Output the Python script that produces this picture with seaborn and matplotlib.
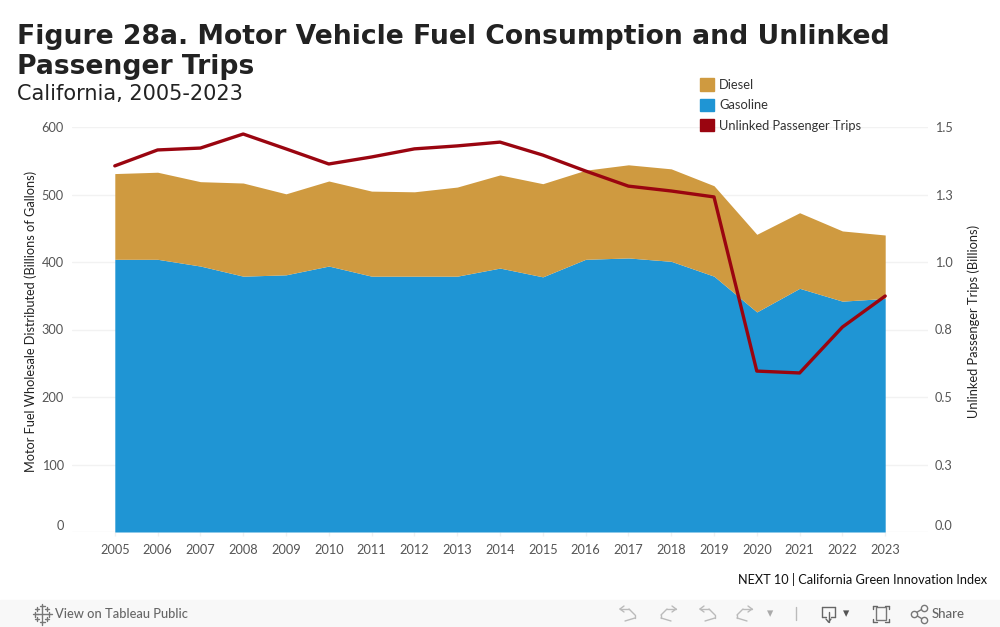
import matplotlib
matplotlib.use('Agg')
import matplotlib.pyplot as plt
import seaborn as sns
import pandas as pd
from matplotlib.lines import Line2D
from matplotlib.patches import Patch, Rectangle

years = list(range(2005, 2024))
gasoline = [404, 404, 394, 379, 381, 394, 379, 379, 379, 391, 378, 404, 406, 401, 379, 326, 361, 342, 346]
diesel = [127, 129, 125, 138, 120, 126, 126, 125, 132, 138, 138, 132, 138, 137, 134, 115, 112, 104, 94]
trips = [1.356, 1.415, 1.422, 1.474, 1.419, 1.363, 1.389, 1.419, 1.43, 1.444, 1.396, 1.337, 1.281, 1.263, 1.241, 0.596, 0.589, 0.759, 0.874]

left_ticks = [0, 100, 200, 300, 400, 500, 600]
right_ticks = [0, 0.25, 0.5, 0.75, 1.0, 1.25, 1.5]
right_labels = ['0.0', '0.3', '0.5', '0.8', '1.0', '1.3', '1.5']

blue = '#1f95d4'
gold = '#cf9a40'
red = '#9a0510'
ui_font = ['Lato', 'DejaVu Sans']

df = pd.DataFrame({'year': years, 'trips': trips})

sns.set_theme(style='white')
plt.rcParams['font.family'] = ui_font

fig = plt.figure(figsize=(10, 6.27), dpi=100)
ax = fig.add_axes([0.072, 1 - 532 / 627, 0.856, 405 / 627])

ax.stackplot(years, gasoline, diesel, colors=[blue, gold], linewidth=0, zorder=2)
ax.set_xlim(2004, 2024)
ax.set_ylim(0, 600)
ax.set_yticks(left_ticks)
ax.set_xticks(years)
ax.grid(axis='y', color='#f2f2f2', linewidth=1, zorder=0)
ax.set_axisbelow(True)
ax.tick_params(axis='y', length=0, labelsize=9.2, labelcolor='#555555', pad=6)
ax.tick_params(axis='x', length=3, color='#f0f0f0', width=1, bottom=True, labelsize=9.2, labelcolor='#555555', pad=5.5)
ax.get_yticklabels()[0].set_verticalalignment('bottom')
ax.set_ylabel('Motor Fuel Wholesale Distributed (Billions of Gallons)', fontsize=9.2, color='#222222')
ax.yaxis.set_label_coords(-0.0412, 0.519)
sns.despine(ax=ax, left=True, right=True, top=True, bottom=True)

ax2 = ax.twinx()
sns.lineplot(data=df, x='year', y='trips', ax=ax2, color=red, linewidth=2.4, zorder=5)
ax2.set_ylim(0, 1.5)
ax2.set_yticks(right_ticks)
ax2.set_yticklabels(right_labels)
ax2.grid(False)
ax2.tick_params(axis='y', length=0, labelsize=9.2, labelcolor='#555555', pad=5)
ax2.get_yticklabels()[0].set_verticalalignment('bottom')
ax2.set_xlabel('')
ax2.set_ylabel('Unlinked Passenger Trips (Billions)', fontsize=9.3, color='#222222')
ax2.yaxis.set_label_coords(1.0458, 0.519)
sns.despine(ax=ax2, left=True, right=True, top=True, bottom=True)

# title block
fig.text(0.017, 1 - 36.5 / 627, 'Figure 28a. Motor Vehicle Fuel Consumption and Unlinked', fontsize=19.2,
         fontweight='bold', color='#222222', va='center', family='DejaVu Sans')
fig.text(0.017, 1 - 66.5 / 627, 'Passenger Trips', fontsize=19.2, fontweight='bold', color='#222222',
         va='center', family='DejaVu Sans')
fig.text(0.017, 1 - 94 / 627, 'California, 2005-2023', fontsize=15, color='#222222', va='center',
         family='DejaVu Sans')

handles = [Patch(color=gold), Patch(color=blue), Patch(color=red)]
fig.legend(handles, ['Diesel', 'Gasoline', 'Unlinked Passenger Trips'], loc='upper left',
           bbox_to_anchor=(0.700, 1 - 78.5 / 627), frameon=False, fontsize=9.3, labelcolor='#333333',
           handlelength=1.08, handleheight=1.08, handletextpad=0.39, labelspacing=0.6, borderpad=0,
           borderaxespad=0)

fig.text(0.987, 1 - 580 / 627, 'NEXT 10 | California Green Innovation Index', fontsize=9.2, color='#111111',
         ha='right', va='center')


# footer icons are drawn in pixel coordinates
def px(x, y):
    return x / 1000, 1 - y / 627


def seg(x0, y0, x1, y1, color='#888888', lw=1):
    a, b = px(x0, y0), px(x1, y1)
    fig.add_artist(Line2D([a[0], b[0]], [a[1], b[1]], color=color, linewidth=lw, transform=fig.transFigure))


fig.add_artist(Rectangle((0, 0), 1, 27 / 627, transform=fig.transFigure, color='#f8f8f8', zorder=-1))
fig.text(0.055, 1 - 614 / 627, 'View on Tableau Public', fontsize=9.3, fontweight='medium', color='#666666', va='center')
fig.text(0.932, 1 - 614 / 627, 'Share', fontsize=9.5, fontweight='medium', color='#666666', va='center')

# tableau mark
for cx, cy, r in [(42, 614, 5), (42, 606, 2.5), (42, 622, 2.5), (35, 614, 2.5), (49, 614, 2.5),
                  (37, 609, 2), (47, 609, 2), (37, 619, 2), (47, 619, 2)]:
    seg(cx - r, cy, cx + r, cy, '#777777', 1)
    seg(cx, cy - r, cx, cy + r, '#777777', 1)

# undo / redo arrows
for cx, flip in [(628, False), (668, True), (708, False), (744, True)]:
    d = -1 if flip else 1
    seg(cx - 8 * d, 609, cx + 1 * d, 609, '#bbbbbb')
    seg(cx - 8 * d, 609, cx - 4 * d, 606, '#bbbbbb')
    seg(cx - 8 * d, 609, cx - 4 * d, 612, '#bbbbbb')
    seg(cx + 7 * d, 615, cx + 7 * d, 618, '#bbbbbb')
    seg(cx + 1 * d, 609, cx + 7 * d, 615, '#bbbbbb')
    seg(cx + 7 * d, 618, cx - 3 * d, 621, '#bbbbbb')
fig.text(0.770, 1 - 614 / 627, '▾', fontsize=9, color='#aaaaaa', va='center', ha='center', family='DejaVu Sans')
seg(796, 607, 796, 620, '#bbbbbb')

# download
seg(822, 607, 835, 607, '#666666')
seg(822, 607, 822, 617, '#666666')
seg(835, 607, 835, 617, '#666666')
seg(822, 617, 826, 617, '#666666')
seg(831, 617, 835, 617, '#666666')
seg(828.5, 612, 828.5, 622, '#666666')
seg(826, 619, 828.5, 622, '#666666')
seg(831, 619, 828.5, 622, '#666666')
fig.text(0.846, 1 - 614 / 627, '▾', fontsize=9, color='#555555', va='center', ha='center', family='DejaVu Sans')

# full screen
fig.add_artist(Rectangle(px(876, 620), 10 / 1000, 13 / 627, transform=fig.transFigure, fill=False,
                         edgecolor='#777777', linewidth=1))
for x0, d in [(873, 1), (889, -1)]:
    for y0, e in [(606, 1), (622, -1)]:
        seg(x0, y0, x0 + 4 * d, y0, '#666666')
        seg(x0, y0, x0, y0 + 3 * e, '#666666')

# share
seg(914, 614, 924, 608, '#777777')
seg(914, 614, 924, 620, '#777777')
for cx, cy in [(914, 614), (924, 608), (924, 620)]:
    dx, dy = px(cx, cy)
    fig.add_artist(Line2D([dx], [dy], marker='o', markersize=4.5, markerfacecolor='#f8f8f8',
                          markeredgecolor='#777777', markeredgewidth=1, transform=fig.transFigure))

fig.savefig('out.png', dpi=100)
